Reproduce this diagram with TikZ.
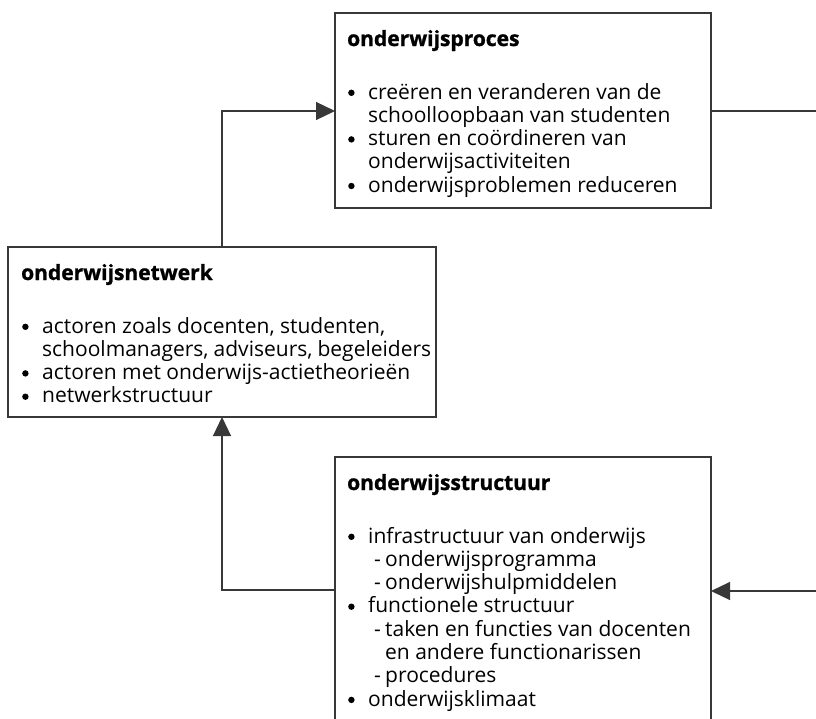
\documentclass[tikz,border=0pt]{standalone}
\usepackage{fontspec}
\setmainfont{Open Sans}
\usetikzlibrary{arrows.meta}
\newcommand\fsz{\fontsize{21}{23.3}\selectfont}
\newcommand\heavy{\bfseries\addfontfeature{FakeBold=1.2}}
\newcommand\dotmark{\tikz[baseline=0pt]\fill[black] (0pt,6.2pt) circle (3.2pt);}
\newcommand\bul[1]{\par\hangindent=21pt\hangafter=1\noindent\makebox[21pt][l]{\hspace{1pt}\dotmark}#1}
\newcommand\subit[1]{\par\hangindent=38pt\hangafter=1\noindent\hspace*{27pt}\makebox[11pt][l]{-}#1}
\begin{document}
\begin{tikzpicture}[x=1pt,y=-1pt,
  box/.style={draw=black!78, line width=1.2pt, rectangle, inner sep=0pt, outer sep=0pt, anchor=north west},
  ttl/.style={anchor=base west, inner sep=0pt, font=\fsz\heavy, text=black},
  lst/.style={anchor=base west, inner sep=0pt, font=\fsz, text=black},
  ln/.style={draw=black!78, line width=1.2pt},
  arr/.style={ln, -{Triangle[length=19pt,width=18pt]}}]
\useasboundingbox (0,0) rectangle (816,718);
\clip (0,0) rectangle (816,718);
% boxes
\node[box, minimum width=376pt, minimum height=195pt] (proces) at (335,13) {};
\node[box, minimum width=428pt, minimum height=170pt] (netwerk) at (8,247) {};
\node[box, minimum width=376pt, minimum height=300pt] (struct) at (335,457) {};
% texts
\node[ttl] (procesT) at (347,46) {onderwijsproces};
\node[lst] (procesL) at (347,99) {\parbox[t]{360pt}{%
  \bul{creëren en veranderen van de\newline schoolloopbaan van studenten}%
  \bul{sturen en coördineren van\newline onderwijsactiviteiten}%
  \bul{onderwijsproblemen reduceren}}};
\node[ttl] (netwerkT) at (21,280) {onderwijsnetwerk};
\node[lst] (netwerkL) at (21,333) {\parbox[t]{410pt}{%
  \bul{actoren zoals docenten, studenten,\newline schoolmanagers, adviseurs, begeleiders}%
  \bul{actoren met onderwijs-actietheorieën}%
  \bul{netwerkstructuur}}};
\node[ttl] (structT) at (347,490) {onderwijsstructuur};
\node[lst] (structL) at (347,543) {\parbox[t]{360pt}{%
  \bul{infrastructuur van onderwijs}%
  \subit{onderwijsprogramma}%
  \subit{onderwijshulpmiddelen}%
  \bul{functionele structuur}%
  \subit{taken en functies van docenten\newline en andere functionarissen}%
  \subit{procedures}%
  \bul{onderwijsklimaat}}};
% connectors
\coordinate (k1) at (222,111);
\coordinate (k2) at (222,590);
\coordinate (e1) at (816,111);
\coordinate (e2) at (816,591);
\draw[arr] (k1 |- netwerk.north) -- (k1) -- (k1 -| proces.west);
\draw[arr] (k2 -| struct.west) -- (k2) -- (k2 |- netwerk.south);
\draw[ln] (proces.east |- e1) -- (e1);
\draw[arr] (e2) -- (e2 -| struct.east);
\end{tikzpicture}
\end{document}
